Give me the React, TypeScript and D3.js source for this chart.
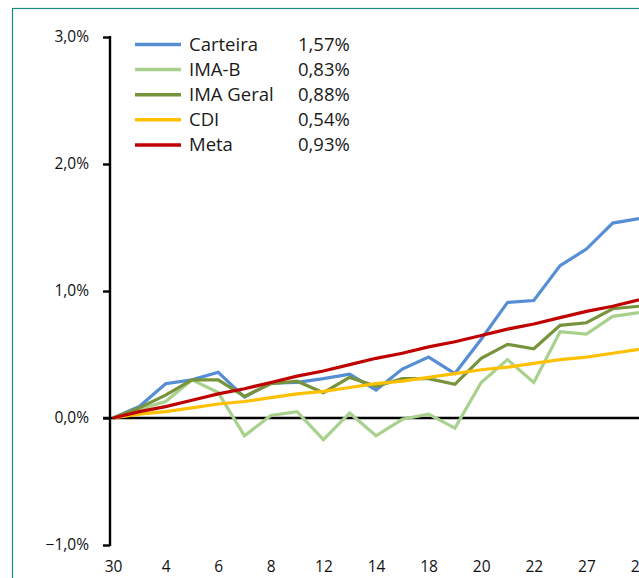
import React, { useEffect, useRef } from "react";
import * as d3 from "d3";

// dias úteis do mês (30 = último dia do mês anterior)
const days = ["30", "1", "4", "5", "6", "7", "8", "11", "12", "13", "14", "15", "18", "19", "20", "21", "22", "26", "27", "28", "29"];

const carteira = [0, 0.09, 0.27, 0.3, 0.36, 0.165, 0.275, 0.28, 0.31, 0.345, 0.22, 0.385, 0.48, 0.35, 0.62, 0.91, 0.925, 1.2, 1.33, 1.535, 1.57];
const imaB = [0, 0.07, 0.13, 0.3, 0.2, -0.14, 0.02, 0.05, -0.17, 0.04, -0.14, -0.01, 0.03, -0.08, 0.28, 0.46, 0.28, 0.68, 0.66, 0.8, 0.83];
const imaGeral = [0, 0.08, 0.18, 0.3, 0.3, 0.17, 0.27, 0.29, 0.2, 0.32, 0.25, 0.31, 0.31, 0.265, 0.47, 0.58, 0.545, 0.73, 0.75, 0.86, 0.88];
const cdi = [0, 0.03, 0.05, 0.08, 0.11, 0.13, 0.16, 0.19, 0.21, 0.24, 0.27, 0.29, 0.32, 0.35, 0.38, 0.4, 0.43, 0.46, 0.48, 0.51, 0.54];
const meta = [0, 0.05, 0.09, 0.14, 0.19, 0.23, 0.28, 0.33, 0.37, 0.42, 0.47, 0.51, 0.56, 0.6, 0.65, 0.7, 0.74, 0.79, 0.84, 0.88, 0.93];

const seriesNames = ["Carteira", "IMA-B", "IMA Geral", "CDI", "Meta"];
const seriesTotals = ["1,57%", "0,83%", "0,88%", "0,54%", "0,93%"];
const seriesColors = ["#558ED5", "#A9D18E", "#77933C", "#FFC000", "#C00000"];
const yTicks = [-1, 0, 1, 2, 3];

const App = () => {
  const ref = useRef<SVGSVGElement>(null);

  useEffect(() => {
    const svg = d3.select(ref.current);
    svg.selectAll("*").remove();

    const width = 639;
    const height = 578;
    const font = "'Open Sans', 'Noto Sans', sans-serif";
    const axisX = 110;

    svg.attr("width", width).attr("height", height);

    // moldura do gráfico (cortada à direita e embaixo)
    svg
      .append("rect")
      .attr("x", 12.5)
      .attr("y", 8.5)
      .attr("width", 700)
      .attr("height", 700)
      .attr("fill", "#fff")
      .attr("stroke", "#1B8C80")
      .attr("stroke-width", 1.2);

    const x = d3.scalePoint().domain(days).range([113, 639]);
    const y = d3.scaleLinear().domain([-1, 3]).range([545, 37]);

    // eixo Y
    const yAxis = svg
      .append("g")
      .attr("transform", `translate(${axisX},0)`)
      .call(
        d3
          .axisLeft(y)
          .tickValues(yTicks)
          .tickSize(7)
          .tickPadding(14)
          .tickFormat((d) => d3.format(".1f")(d as number).replace(".", ",") + "%")
      );
    yAxis.select(".domain").attr("stroke", "#000").attr("stroke-width", 2.4).attr("d", `M0,${y(3) - 1}V${y(-1) + 1}`);
    yAxis.selectAll(".tick line").attr("stroke", "#000").attr("stroke-width", 2.4);
    yAxis
      .selectAll(".tick text")
      .attr("fill", "#111")
      .style("font-family", font)
      .style("font-size", "15.5px")
      .style("font-weight", 500);

    // linha do zero
    svg
      .append("line")
      .attr("x1", 103)
      .attr("x2", 700)
      .attr("y1", y(0))
      .attr("y2", y(0))
      .attr("stroke", "#000")
      .attr("stroke-width", 2.4);

    // rótulos do eixo X (embaixo)
    const xAxis = svg
      .append("g")
      .attr("transform", `translate(0,${y(-1)})`)
      .call(
        d3
          .axisBottom(x)
          .tickValues(days.filter((_, i) => i % 2 === 0))
          .tickSize(0)
          .tickPadding(16)
      );
    xAxis.select(".domain").remove();
    xAxis
      .selectAll(".tick text")
      .attr("fill", "#111")
      .style("font-family", font)
      .style("font-size", "15.5px");

    // séries
    const allSeries = [carteira, imaB, imaGeral, cdi, meta];
    const line = d3
      .line<number>()
      .x((_, i) => x(days[i]) as number)
      .y((d) => y(d));

    allSeries.forEach((values, k) => {
      svg
        .append("path")
        .datum(values)
        .attr("fill", "none")
        .attr("stroke", seriesColors[k])
        .attr("stroke-width", 3.2)
        .attr("stroke-linejoin", "miter")
        .attr("d", line);
    });

    // legenda
    const legend = svg.append("g");
    seriesNames.forEach((name, k) => {
      const ly = 44.5 + k * 25.1;
      legend
        .append("line")
        .attr("x1", 135)
        .attr("x2", 181)
        .attr("y1", ly)
        .attr("y2", ly)
        .attr("stroke", seriesColors[k])
        .attr("stroke-width", 3.5);
      legend
        .append("text")
        .attr("x", 189)
        .attr("y", ly + 6.4)
        .attr("fill", "#1a1a1a")
        .style("font-family", font)
        .style("font-size", "18.5px")
        .text(name);
      legend
        .append("text")
        .attr("x", 298)
        .attr("y", ly + 6.4)
        .attr("fill", "#1a1a1a")
        .style("font-family", font)
        .style("font-size", "18.5px")
        .text(seriesTotals[k]);
    });
  }, []);

  return <svg ref={ref} style={{ position: "absolute", left: 0, top: 0 }}></svg>;
};

export default App;
